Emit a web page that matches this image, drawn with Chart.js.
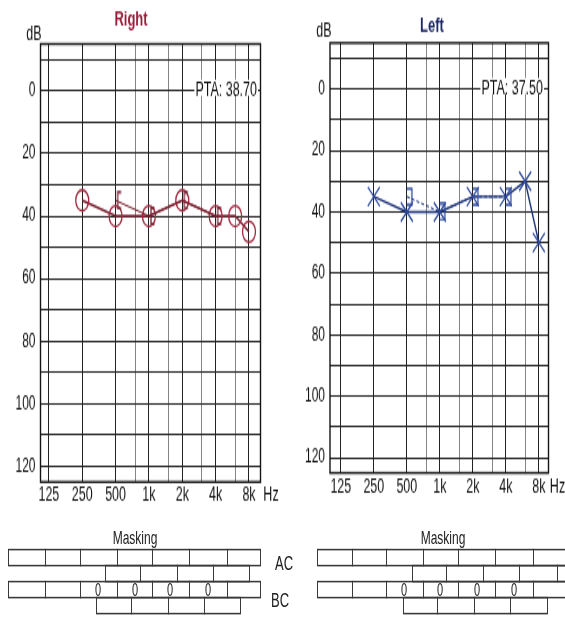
<!DOCTYPE html>
<html>
<head>
<meta charset="utf-8">
<script src="https://cdn.jsdelivr.net/npm/chart.js@4.4.1/dist/chart.umd.min.js"></script>
<style>
html, body { margin: 0; padding: 0; background: #fff; width: 565px; height: 618px; overflow: hidden; }
#sheet { position: relative; width: 565px; height: 618px; }
/* the scanned sheet is stretched vertically, so the whole page is drawn squat and scaled */
#page { position: absolute; left: 0; top: 0; width: 565px; height: 386.25px; transform: scaleY(1.6); transform-origin: 0 0;
        font-family: "Liberation Sans Narrow", "Liberation Sans", Arial, sans-serif; color: #222; }
canvas { position: absolute; top: 0; }
.cell { position: absolute; border: 1px solid #3a3a3a; box-sizing: border-box; height: 11px; }
.txt { position: absolute; white-space: nowrap; transform: translate(-50%, -50%); line-height: 1; }
</style>
</head>
<body>
<div id="sheet">
<div id="page">
  <canvas id="rightChart" width="282" height="320" style="left:0"></canvas>
  <canvas id="leftChart" width="277" height="315" style="left:288px"></canvas>
  <div id="masking"></div>
</div>
</div>
<script>
const freqTicks = [125, 250, 500, 750, 1000, 1500, 2000, 3000, 4000, 6000, 8000];
const octaveTicks = [125, 250, 500, 1000, 2000, 4000, 8000];
const freqLabels = { 125: '125', 250: '250', 500: '500', 1000: '1k', 2000: '2k', 4000: '4k', 8000: '8k' };
const dbTicks = [-10, 0, 10, 20, 30, 40, 50, 60, 70, 80, 90, 100, 110, 120];

// right ear
const rightFreqs = [250, 500, 1000, 2000, 4000, 6000, 8000];
const rightAC = [35, 40, 40, 35, 40, 40, 45];
const rightBCFreqs = [500, 1000, 2000, 4000];
const rightBC = [35, 40, 35, 40];

// left ear
const leftFreqs = [250, 500, 1000, 2000, 4000, 6000, 8000];
const leftAC = [35, 40, 40, 35, 35, 30, 50];
const leftBCFreqs = [500, 1000, 2000, 4000];
const leftBC = [35, 40, 35, 35];

const narrow = '"Liberation Sans Narrow", "Liberation Sans", Arial, sans-serif';

function toPoints(freqs, vals) {
    return freqs.map((f, i) => ({ x: f, y: vals[i] }));
}

function bracket(color, vx, tx) {
    const c = document.createElement('canvas');
    c.width = 14; c.height = 12;
    const g = c.getContext('2d');
    g.strokeStyle = color;
    g.lineWidth = 1.3;
    g.beginPath();
    g.moveTo(tx, 1); g.lineTo(vx, 1); g.lineTo(vx, 11); g.lineTo(tx, 11);
    g.stroke();
    return c;
}

const audioText = {
    id: 'audioText',
    afterDraw(chart, args, o) {
        const { ctx, chartArea: a, scales: { x, y } } = chart;
        ctx.save();
        ctx.strokeStyle = '#151515';
        ctx.lineWidth = 1.4;
        ctx.strokeRect(a.left, a.top, a.right - a.left, a.bottom - a.top);

        // PTA sits on the 0 dB line
        ctx.font = '12.5px ' + narrow;
        const w = ctx.measureText(o.pta).width;
        const y0 = y.getPixelForValue(0);
        ctx.fillStyle = '#fff';
        ctx.fillRect(o.ptaRight - w - 1, y0 - 7, w + 2, 10);
        ctx.fillStyle = '#111';
        ctx.textAlign = 'right';
        ctx.textBaseline = 'alphabetic';
        ctx.fillText(o.pta, o.ptaRight, y0 + 3);

        ctx.textAlign = 'center';
        ctx.textBaseline = 'middle';
        ctx.font = '12.5px ' + narrow;
        ctx.fillText('dB', o.dbX, o.dbY);
        ctx.font = '12.5px ' + narrow;
        ctx.fillText('Hz', o.hzX, x.top + 8.5);

        ctx.font = 'bold 13px "Liberation Sans", Arial, sans-serif';
        ctx.fillStyle = o.titleColor;
        ctx.fillText(o.title, o.titleX, o.titleY);
        ctx.restore();
    }
};

function drawAudiogram(id, cfg) {
    new Chart(document.getElementById(id), {
        type: 'line',
        data: {
            datasets: [{
                data: toPoints(cfg.bcFreqs, cfg.bc),
                borderColor: cfg.lineColor,
                borderWidth: 1,
                borderDash: cfg.bcDash,
                pointStyle: cfg.bcMarker,
                pointRadius: 6,
                fill: false
            }, {
                data: toPoints(cfg.freqs, cfg.ac),
                borderColor: cfg.lineColor,
                borderWidth: 1.4,
                pointStyle: cfg.acMarker,
                pointRadius: cfg.acRadius,
                pointBorderColor: cfg.markColor,
                pointBackgroundColor: 'rgba(0,0,0,0)',
                pointBorderWidth: 1.3,
                fill: false
            }]
        },
        options: {
            responsive: false,
            animation: false,
            layout: { padding: { left: 0, top: cfg.top, right: cfg.padRight, bottom: cfg.padBottom } },
            plugins: {
                legend: { display: false },
                tooltip: { enabled: false },
                audioText: cfg.text
            },
            scales: {
                x: {
                    type: 'logarithmic',
                    min: cfg.xMin,
                    max: cfg.xMax,
                    afterBuildTicks: s => { s.ticks = freqTicks.map(v => ({ value: v })); },
                    afterFit: s => { s.height = 18.75; },
                    border: { display: false },
                    grid: {
                        drawTicks: false,
                        color: c => octaveTicks.includes(c.tick.value) ? '#222' : '#666',
                        lineWidth: c => octaveTicks.includes(c.tick.value) ? 1 : 0.8
                    },
                    ticks: {
                        autoSkip: false,
                        maxRotation: 0,
                        padding: 1,
                        color: '#111',
                        font: { family: narrow, size: 12.5 },
                        callback: v => freqLabels[v] || ''
                    }
                },
                y: {
                    type: 'linear',
                    reverse: true,
                    min: -15,
                    max: 125,
                    afterBuildTicks: s => { s.ticks = dbTicks.map(v => ({ value: v })); },
                    afterFit: s => { s.width = cfg.yWidth; },
                    border: { display: false },
                    grid: { drawTicks: false, color: '#262626', lineWidth: 1 },
                    ticks: {
                        padding: 5,
                        color: '#111',
                        font: { family: narrow, size: 12 },
                        callback: v => (v >= 0 && v % 20 === 0) ? String(v) : ''
                    }
                }
            }
        },
        plugins: [audioText]
    });
}

drawAudiogram('rightChart', {
    freqs: rightFreqs, ac: rightAC, bcFreqs: rightBCFreqs, bc: rightBC,
    lineColor: '#7a1f30', markColor: '#a3283f',
    acMarker: 'circle', acRadius: 6.5,
    bcMarker: bracket('#7a1f30', 9, 12.5), bcDash: [],
    xMin: 105, xMax: 10160,
    top: 27.5, padRight: 21.5, padBottom: 0, yWidth: 40.5,
    text: { title: 'Right', titleColor: '#9b1d3c', titleX: 131, titleY: 12.5,
            dbX: 34, dbY: 21.6, hzX: 271, pta: 'PTA: 38.70', ptaRight: 257 }
});

drawAudiogram('leftChart', {
    freqs: leftFreqs, ac: leftAC, bcFreqs: leftBCFreqs, bc: leftBC,
    lineColor: '#1e3478', markColor: '#2e4a9e',
    acMarker: 'crossRot', acRadius: 8.5,
    bcMarker: bracket('#2e4a9e', 12, 7), bcDash: [3, 2],
    xMin: 99.6, xMax: 9800,
    top: 26.9, padRight: 16.5, padBottom: 0.65, yWidth: 42,
    text: { title: 'Left', titleColor: '#1f2a66', titleX: 144, titleY: 16.9,
            dbX: 36, dbY: 20, hzX: 269.5, pta: 'PTA: 37.50', ptaRight: 255 }
});

// masking boxes under each audiogram
const maskRowsY = [343.1, 353.1, 363.1, 373.1];
const rightMaskRows = [
    [8, 45, 80, 117, 152, 189, 227, 260],
    [105, 140, 177, 213, 249],
    [8, 45, 80, 117, 152, 189, 227, 260],
    [96, 131, 168, 204, 240]
];
const leftMaskRows = [
    [317, 352, 386, 423, 458, 495, 533, 570],
    [412, 446, 483, 519, 557, 570],
    [317, 352, 386, 423, 458, 495, 533, 570],
    [403, 437, 474, 510, 547]
];
const rightZeros = [98, 135, 170, 208];
const leftZeros = [404, 440, 477, 514];

const box = document.getElementById('masking');
function addText(str, x, y, size) {
    const d = document.createElement('div');
    d.className = 'txt';
    d.textContent = str;
    d.style.left = x + 'px';
    d.style.top = y + 'px';
    d.style.fontSize = size + 'px';
    box.appendChild(d);
}
function addRows(rows) {
    rows.forEach((edges, r) => {
        for (let i = 0; i < edges.length - 1; i++) {
            const d = document.createElement('div');
            d.className = 'cell';
            d.style.left = edges[i] + 'px';
            d.style.top = maskRowsY[r] + 'px';
            d.style.width = (edges[i + 1] - edges[i] + 1) + 'px';
            box.appendChild(d);
        }
    });
}
addRows(rightMaskRows);
addRows(leftMaskRows);
rightZeros.forEach(x => addText('0', x, 368.5, 11));
leftZeros.forEach(x => addText('0', x, 368.5, 11));
addText('Masking', 135, 335.6, 12);
addText('Masking', 443, 335.6, 12);
addText('AC', 284, 351.8, 13);
addText('BC', 280, 374.5, 13);
</script>
</body>
</html>
